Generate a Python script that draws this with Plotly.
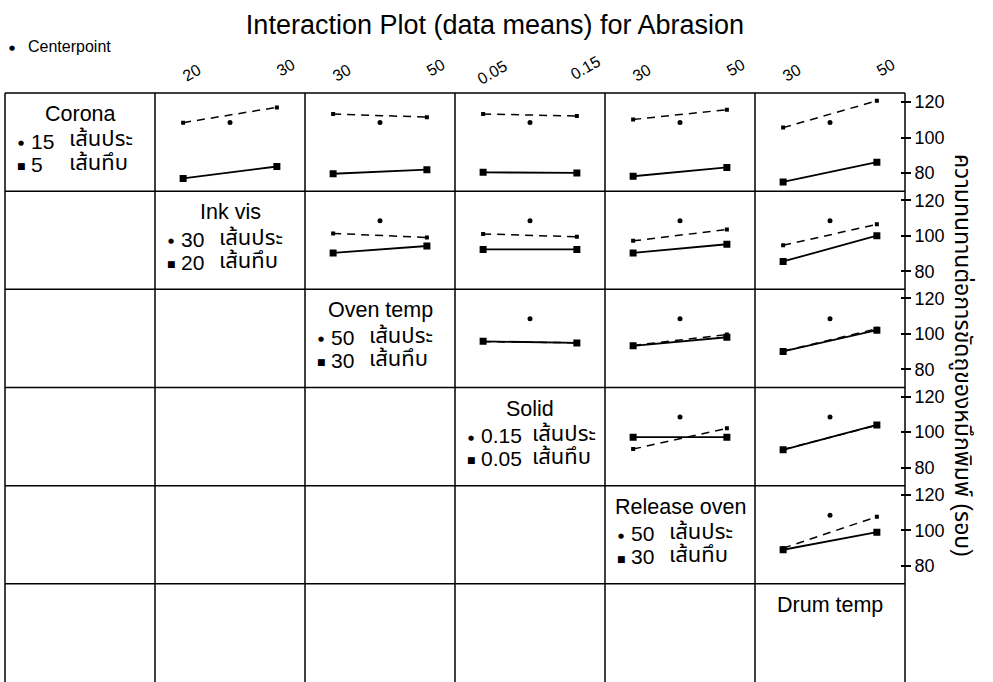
import plotly.graph_objects as go

# ---------------- data ----------------
factors = ["Corona", "Ink vis", "Oven temp", "Solid", "Release oven", "Drum temp"]
low_levels = ["5", "20", "30", "0.05", "30", "30"]
high_levels = ["15", "30", "50", "0.15", "50", "50"]
high_label = "เส้นประ"   # dashed line = high level
low_label = "เส้นทึบ"    # solid line = low level
centerpoint_mean = 108.5
y_title = "ความทนทานต่อการขัดถูของหมึกพิมพ์ (รอบ)"
y_ticks = [80, 100, 120]

# means of each row factor (high = dashed, low = solid) at the column factor's low / high level
corona_high = [[108.4, 117.0], [113.3, 111.5], [113.3, 112.1], [110.2, 115.7], [105.6, 120.7]]
corona_low = [[77.0, 83.7], [79.6, 81.9], [80.4, 80.1], [78.2, 83.2], [75.0, 86.1]]
inkvis_high = [[101.3, 99.0], [101.0, 99.4], [97.1, 103.5], [94.6, 106.4]]
inkvis_low = [[90.3, 94.2], [92.3, 92.3], [90.3, 95.2], [85.5, 100.0]]
oventemp_high = [[95.6, 95.0], [93.5, 99.6], [90.3, 102.9]]
oventemp_low = [[95.8, 94.9], [93.3, 98.1], [90.1, 102.1]]
solid_high = [[90.4, 102.1], [90.2, 103.8]]
solid_low = [[97.1, 97.1], [90.0, 104.0]]
release_high = [[89.9, 107.6]]
release_low = [[89.0, 98.9]]

high_rows = [corona_high, inkvis_high, oventemp_high, solid_high, release_high]
low_rows = [corona_low, inkvis_low, oventemp_low, solid_low, release_low]

# ---------------- layout constants ----------------
W, H = 993, 682
ML, MR, MT, MB = 5, 88, 93, 0
PW, PH = W - ML - MR, H - MT - MB
N = 6
FONT = "Liberation Sans, Arial, Noto Sans Thai, Loma, Garuda, sans-serif"
YR = [69.8, 125.1]
XR = [-0.3, 1.3]


def px_x(p):
    return (p - ML) / PW


def px_y(p):
    return (H - MB - p) / PH


fig = go.Figure()
layout = dict(
    width=W, height=H,
    margin=dict(l=ML, r=MR, t=MT, b=MB),
    paper_bgcolor="white", plot_bgcolor="white",
    showlegend=False,
    font=dict(family=FONT, color="black"),
    title=dict(text="Interaction Plot (data means) for Abrasion",
               x=(495) / W, xanchor="center", y=1 - 25 / H, yanchor="middle",
               font=dict(size=27, family=FONT, color="black")),
)
annotations = []
shapes = []

k = 0
for i in range(N - 1):
    for j in range(i + 1, N):
        k += 1
        xa = "x" if k == 1 else f"x{k}"
        ya = "y" if k == 1 else f"y{k}"
        xkey = "xaxis" if k == 1 else f"xaxis{k}"
        ykey = "yaxis" if k == 1 else f"yaxis{k}"
        layout[xkey] = dict(domain=[j / N, (j + 1) / N], range=XR, anchor=ya,
                            showgrid=False, zeroline=False, showticklabels=False,
                            ticks="", showline=False, fixedrange=True)
        yax = dict(domain=[1 - (i + 1) / N, 1 - i / N], range=YR, anchor=xa,
                   showgrid=False, zeroline=False, showline=False, fixedrange=True)
        if j == N - 1:
            yax.update(side="right", anchor="free", position=px_x(900),
                       tickvals=y_ticks, ticks="outside", ticklen=10, tickwidth=1.5,
                       tickcolor="black", showticklabels=True,
                       tickfont=dict(size=18, family=FONT, color="black"))
        else:
            yax.update(showticklabels=False, ticks="")
        layout[ykey] = yax

        hv = high_rows[i][j - i - 1]
        lv = low_rows[i][j - i - 1]
        fig.add_trace(go.Scatter(x=[0, 1], y=hv, xaxis=xa, yaxis=ya, mode="lines+markers",
                                 line=dict(color="black", width=1.5, dash="8px,6px"),
                                 marker=dict(symbol="square", size=4, color="black"),
                                 hoverinfo="skip"))
        fig.add_trace(go.Scatter(x=[0, 1], y=lv, xaxis=xa, yaxis=ya, mode="lines+markers",
                                 line=dict(color="black", width=1.8),
                                 marker=dict(symbol="square", size=7, color="black"),
                                 hoverinfo="skip"))
        fig.add_trace(go.Scatter(x=[0.5], y=[centerpoint_mean], xaxis=xa, yaxis=ya,
                                 mode="markers",
                                 marker=dict(symbol="circle", size=5, color="black"),
                                 hoverinfo="skip"))
        # top tick labels on the first row
        if i == 0:
            for xv, lab, ypx in ((0, low_levels[j], 73), (1, high_levels[j], 68)):
                annotations.append(dict(x=xv, xref=xa, y=px_y(ypx), yref="paper",
                                        text=lab, showarrow=False, textangle=-30,
                                        xshift=9, xanchor="center", yanchor="middle",
                                        font=dict(size=16, family=FONT, color="black")))

# diagonal cells: factor names and legends
for d in range(N):
    cl = ML + d * PW / N
    ct = MT + d * PH / N
    annotations.append(dict(x=px_x(cl + PW / N / 2), y=px_y(ct + 21), xref="paper", yref="paper",
                            text=factors[d], showarrow=False, xanchor="center", yanchor="middle",
                            font=dict(size=21.5, family=FONT, color="black")))
    if d < N - 1:
        thai_off = 75 if len(high_levels[d]) > 2 else 62
        for lev, lab, dy, sym, ssz in ((high_levels[d], high_label, 48, "●", 7),
                                      (low_levels[d], low_label, 71, "■", 9)):
            annotations.append(dict(x=px_x(cl + 16), y=px_y(ct + dy + 2), xref="paper", yref="paper",
                                    text=sym, showarrow=False, xanchor="center", yanchor="middle",
                                    font=dict(size=ssz, family="DejaVu Sans", color="black")))
            annotations.append(dict(x=px_x(cl + 24), y=px_y(ct + dy), xref="paper", yref="paper",
                                    text=lev, showarrow=False, xanchor="left", yanchor="middle",
                                    font=dict(size=21, family=FONT, color="black")))
            annotations.append(dict(x=px_x(cl + thai_off), y=px_y(ct + dy - 2), xref="paper", yref="paper",
                                    text=lab, showarrow=False, xanchor="left", yanchor="middle",
                                    font=dict(size=22, family=FONT, color="black")))

# centerpoint legend (top left)
annotations.append(dict(x=px_x(12), y=px_y(48), xref="paper", yref="paper", text="●",
                        showarrow=False, xanchor="center", yanchor="middle",
                        font=dict(size=7, family="DejaVu Sans", color="black")))
annotations.append(dict(x=px_x(26), y=px_y(47), xref="paper", yref="paper", text="Centerpoint",
                        showarrow=False, xanchor="left", yanchor="middle",
                        font=dict(size=16, family=FONT, color="black")))

# right-hand axis title (reads top to bottom)
annotations.append(dict(x=px_x(962), y=px_y(356), xref="paper", yref="paper", text=y_title,
                        showarrow=False, textangle=90, xanchor="center", yanchor="middle",
                        font=dict(size=23, family=FONT, color="black")))

# grid of cells
for j in range(N + 1):
    shapes.append(dict(type="line", xref="paper", yref="paper", x0=j / N, x1=j / N, y0=0, y1=1,
                       line=dict(color="black", width=1.5)))
for i in range(N):
    shapes.append(dict(type="line", xref="paper", yref="paper", x0=0, x1=1, y0=1 - i / N, y1=1 - i / N,
                       line=dict(color="black", width=1.5)))

layout["annotations"] = annotations
layout["shapes"] = shapes
fig.update_layout(**layout)
fig.write_html("out.html")
